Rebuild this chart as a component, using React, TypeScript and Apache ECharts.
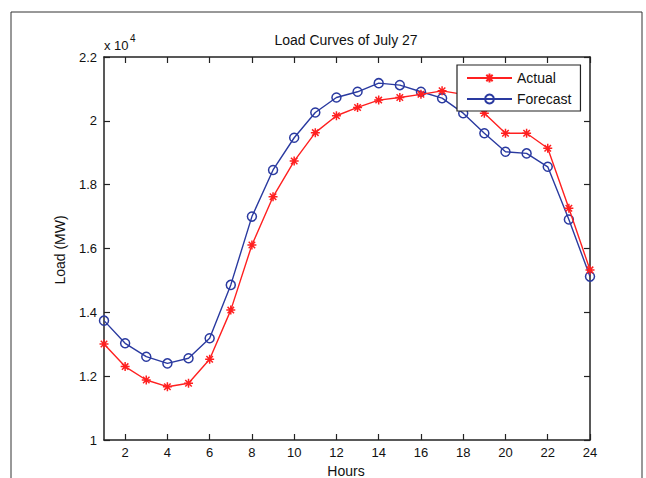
import React, { useEffect, useRef } from "react";
import * as echarts from "echarts";

const hours = [1, 2, 3, 4, 5, 6, 7, 8, 9, 10, 11, 12, 13, 14, 15, 16, 17, 18, 19, 20, 21, 22, 23, 24];
const actual = [13010, 12300, 11880, 11670, 11780, 12530, 14070, 16110, 17620, 18740, 19630, 20160, 20420, 20650, 20730, 20830, 20940, 20830, 20240, 19610, 19610, 19140, 17260, 15330];
const forecast = [13740, 13030, 12610, 12400, 12560, 13190, 14860, 17000, 18460, 19470, 20260, 20730, 20910, 21180, 21120, 20910, 20710, 20240, 19610, 19030, 18980, 18560, 16910, 15120];
const xTicks = [2, 4, 6, 8, 10, 12, 14, 16, 18, 20, 22, 24];
const title = "Load Curves of July 27";
const seriesNames = ["Actual", "Forecast"];

const FONT = "'Liberation Sans', Arial, sans-serif";
const RED = "#ff2020";
const BLUE = "#2a3aa0";
const AXIS = "#222222";
const STAR = "path://M0,-5L0,5M-5,0L5,0M-3.6,-3.6L3.6,3.6M-3.6,3.6L3.6,-3.6";

export default function App() {
  const ref = useRef<HTMLDivElement>(null);
  useEffect(() => {
    if (!ref.current) return;
    const chart = echarts.init(ref.current, undefined, { renderer: "svg" });
    const axisLine = { show: true, onZero: false, lineStyle: { color: AXIS, width: 1.5 } };
    const tick = { show: true, inside: true, length: 6, lineStyle: { color: AXIS, width: 1.2 } };
    chart.setOption({
      animation: false,
      backgroundColor: "#ffffff",
      textStyle: { fontFamily: FONT },
      grid: { left: 104, top: 57, right: 56, bottom: 38, containLabel: false },
      xAxis: [
        {
          type: "value",
          min: 1,
          max: 24,
          position: "bottom",
          axisLine,
          axisTick: { ...tick, customValues: xTicks },
          axisLabel: { customValues: xTicks, color: "#111", fontSize: 13, margin: 6, fontFamily: FONT },
          splitLine: { show: false },
        },
        {
          type: "value",
          min: 1,
          max: 24,
          position: "top",
          axisLine,
          axisTick: { ...tick, customValues: xTicks },
          axisLabel: { show: false },
          splitLine: { show: false },
        },
      ],
      yAxis: [
        {
          type: "value",
          min: 10000,
          max: 22000,
          interval: 2000,
          position: "left",
          axisLine,
          axisTick: tick,
          axisLabel: {
            color: "#111",
            fontSize: 13,
            margin: 7,
            fontFamily: FONT,
            formatter: (v: number) => String(v / 10000),
          },
          splitLine: { show: false },
        },
        {
          type: "value",
          min: 10000,
          max: 22000,
          interval: 2000,
          position: "right",
          axisLine,
          axisTick: tick,
          axisLabel: { show: false },
          splitLine: { show: false },
        },
      ],
      legend: {
        orient: "vertical",
        left: 457,
        top: 65,
        padding: [6, 9, 5, 9],
        itemWidth: 45,
        itemHeight: 11,
        itemGap: 7,
        borderColor: AXIS,
        borderWidth: 1.2,
        borderRadius: 0,
        backgroundColor: "#ffffff",
        textStyle: { color: "#111", fontSize: 14, lineHeight: 14, fontFamily: FONT },
        data: seriesNames,
      },
      series: [
        {
          name: seriesNames[0],
          type: "line",
          data: hours.map((h, i) => [h, actual[i]]),
          symbol: STAR,
          symbolSize: 9,
          showAllSymbol: true,
          lineStyle: { color: RED, width: 1.4 },
          itemStyle: { color: RED, borderColor: RED, borderWidth: 1.5 },
          z: 3,
        },
        {
          name: seriesNames[1],
          type: "line",
          data: hours.map((h, i) => [h, forecast[i]]),
          symbol: "circle",
          symbolSize: 9,
          showAllSymbol: true,
          lineStyle: { color: BLUE, width: 1.4 },
          itemStyle: { color: "rgba(255,255,255,0)", borderColor: BLUE, borderWidth: 1.5 },
          z: 2,
        },
      ],
      graphic: [
        {
          type: "rect",
          shape: { x: 11, y: 12, width: 631, height: 520 },
          style: { fill: "none", stroke: "#333", lineWidth: 1 },
          silent: true,
          z: 0,
        },
        {
          type: "text",
          x: 346,
          y: 40,
          style: { text: title, fontSize: 14, fontFamily: FONT, fill: "#111", align: "center", verticalAlign: "middle" },
        },
        {
          type: "text",
          x: 104,
          y: 45,
          style: { text: "x 10", fontSize: 13, fontFamily: FONT, fill: "#111", align: "left", verticalAlign: "middle" },
        },
        {
          type: "text",
          x: 130,
          y: 38,
          style: { text: "4", fontSize: 10, fontFamily: FONT, fill: "#111", align: "left", verticalAlign: "middle" },
        },
        {
          type: "text",
          x: 346,
          y: 471,
          style: { text: "Hours", fontSize: 14, fontFamily: FONT, fill: "#111", align: "center", verticalAlign: "middle" },
        },
        {
          type: "text",
          x: 60,
          y: 250,
          rotation: Math.PI / 2,
          style: { text: "Load (MW)", fontSize: 14, fontFamily: FONT, fill: "#111", align: "center", verticalAlign: "middle" },
        },
      ],
    });
    return () => chart.dispose();
  }, []);
  return (
    <div
      ref={ref}
      style={{ position: "absolute", left: 0, top: 0, width: 646, height: 478, background: "#fff" }}
    />
  );
}
